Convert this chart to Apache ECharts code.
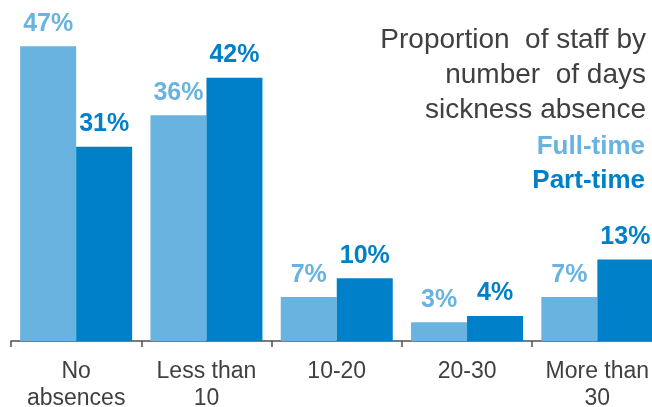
<!DOCTYPE html>
<html><head><meta charset="utf-8">
<script src="https://cdn.jsdelivr.net/npm/echarts@6/dist/echarts.min.js"></script>
<style>html,body{margin:0;padding:0;background:#fff}#c{width:652px;height:407px}</style>
</head><body><div id="c"></div>
<script>
const categories = ['No\nabsences', 'Less than\n10', '10-20', '20-30', 'More than\n30'];
const fullTime = [47, 36, 7, 3, 7];
const partTime = [31, 42, 10, 4, 13];
const seriesNames = ['Full-time', 'Part-time'];
const titleLines = ['Proportion  of staff by', 'number  of days', 'sickness absence'];

const LIGHT = '#68B3E0', DARK = '#0080C8', TEXT = '#404040';
const font = 'Liberation Sans, Arial, sans-serif';

const chart = echarts.init(document.getElementById('c'));
const labelFor = (color) => ({
  show: true, position: 'top', distance: 10, formatter: '{c}%',
  color: color, fontFamily: font, fontWeight: 'bold', fontSize: 25
});
chart.setOption({
  animation: false,
  graphic: [{
    type: 'text', x: 646, y: 23,
    style: {
      text: titleLines.join('\n'), align: 'right', verticalAlign: 'top',
      fill: TEXT, fontFamily: font, fontSize: 28, lineHeight: 35
    }
  }],
  legend: {
    orient: 'vertical', right: -3, top: 129, align: 'right', icon: 'none', itemWidth: 0, itemGap: 8,
    selectedMode: false,
    textStyle: { fontFamily: font, fontWeight: 'bold', fontSize: 26 },
    data: [
      { name: seriesNames[0], textStyle: { color: LIGHT } },
      { name: seriesNames[1], textStyle: { color: DARK } }
    ]
  },
  grid: { left: 11, top: 27.5, right: -10.5, height: 313.5, outerBoundsMode: 'none', containLabel: false },
  xAxis: {
    type: 'category', data: categories,
    axisLine: { lineStyle: { color: '#505050', width: 1.5 } },
    axisTick: { show: true, length: 6, lineStyle: { color: '#505050', width: 1.5 } },
    axisLabel: { interval: 0, color: TEXT, fontFamily: font, fontSize: 23, lineHeight: 27, margin: 17 }
  },
  yAxis: { type: 'value', min: 0, max: 50, show: false, splitLine: { show: false } },
  series: [
    { name: seriesNames[0], type: 'bar', data: fullTime, barWidth: 56, barGap: '0%', itemStyle: { color: LIGHT }, label: labelFor(LIGHT) },
    { name: seriesNames[1], type: 'bar', data: partTime, barWidth: 56, barGap: '0%', itemStyle: { color: DARK }, label: labelFor(DARK) }
  ]
});
</script></body></html>
